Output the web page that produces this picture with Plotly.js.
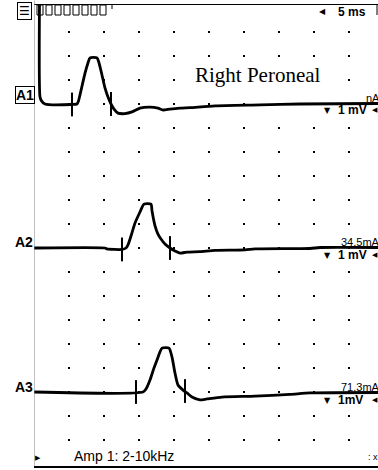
<!DOCTYPE html>
<html>
<head>
<meta charset="utf-8">
<script src="https://cdn.plot.ly/plotly-3.0.1.min.js"></script>
<style>html,body{margin:0;padding:0;background:#fff;}#chart{width:378px;height:470px;}</style>
</head>
<body>
<div id="chart"></div>
<script>
// ---- data (time in ms, amplitude in mV relative to each channel baseline) ----
const channels = ["A1", "A2", "A3"];
const channelOffsets = [15, 9, 3];          // baseline position in divisions
const sensitivity = ["1 mV", "1 mV", "1mV"];
const stimCurrent = ["nA", "34.5mA", "71.3mA"];

const timeA1 = [0.79, 0.86, 1.07, 1.57, 5.43, 6.14, 6.36, 6.57, 6.86, 7.29, 7.71, 8.0, 9.0, 9.29, 9.71, 10.14, 10.57, 11.0, 11.43, 12.0, 13.0, 14.0, 15.14, 16.57, 17.71, 18.43, 19.43, 20.86, 22.29, 25.86, 32.29, 38.0, 49.14];
const voltA1 = [4.4, 0.29, 0.13, 0, -0.02, 0, 0.13, 0.38, 0.75, 1.29, 1.71, 1.92, 1.92, 1.71, 1.21, 0.67, 0.29, 0, -0.21, -0.38, -0.40, -0.33, -0.17, -0.13, -0.17, -0.25, -0.21, -0.17, -0.15, -0.08, -0.04, 0, 0.02];

const timeA2 = [0, 10.14, 10.43, 12.57, 13.14, 13.43, 13.86, 14.43, 15.14, 15.71, 16.71, 16.86, 17.29, 17.71, 18.14, 18.71, 19.43, 20.14, 20.86, 21.86, 23.71, 25.86, 30.14, 31.57, 39.43, 40.86, 49.14];
const voltA2 = [0, 0, -0.04, -0.06, 0, 0.13, 0.5, 1.04, 1.5, 1.83, 1.83, 1.54, 0.92, 0.58, 0.375, 0.17, 0, -0.125, -0.21, -0.17, -0.15, -0.1, -0.08, -0.04, -0.02, 0.02, 0.02];

const timeA3 = [0, 15.57, 16.0, 16.57, 17.14, 17.57, 18.0, 18.29, 19.29, 19.71, 20.14, 20.57, 21.29, 21.86, 22.57, 23.71, 24.71, 26.86, 31.57, 36.57, 39.43, 49.14];
const voltA3 = [0, 0, 0.125, 0.5, 1.0, 1.33, 1.67, 1.83, 1.83, 1.46, 0.79, 0.29, 0.08, -0.04, -0.21, -0.33, -0.29, -0.21, -0.17, -0.1, -0.04, -0.02];

// onset / end latency markers
const cursorTimeA1 = [5.43, 11.0], cursorVoltA1 = [-0.02, 0.0];
const cursorTimeA2 = [12.57, 19.43], cursorVoltA2 = [-0.06, 0.0];
const cursorTimeA3 = [14.57, 21.57], cursorVoltA3 = [0.0, 0.04];

const titleText = "Right Peroneal";
const filterText = "Amp 1: 2-10kHz";
const sweepText = "5 ms";

// ---- geometry helpers (pixel -> axis units / paper units) ----
const X = px => (px - 34) / 7;
const Y = py => (464 - py) / 24;
const PX = px => (px - 34) / 344;

const times = [timeA1, timeA2, timeA3];
const volts = [voltA1, voltA2, voltA3];
const cT = [cursorTimeA1, cursorTimeA2, cursorTimeA3];
const cV = [cursorVoltA1, cursorVoltA2, cursorVoltA3];

const traces = [];
// grid dots
const gx = [], gy = [];
for (let t = 5; t <= 45; t += 5) for (let d = 1; d <= 18; d++) { gx.push(t); gy.push(d); }
traces.push({x: gx, y: gy, mode: 'markers', type: 'scatter', hoverinfo: 'skip',
  marker: {symbol: 'square', size: 2, color: '#000', line: {width: 0}}});

channels.forEach((c, i) => {
  traces.push({x: times[i], y: volts[i].map(v => v + channelOffsets[i]), mode: 'lines', type: 'scatter',
    line: {color: '#000', width: 2.8, shape: 'spline', smoothing: 0.6}, hoverinfo: 'skip'});
  traces.push({x: cT[i], y: cV[i].map(v => v + channelOffsets[i]), mode: 'markers', type: 'scatter',
    marker: {symbol: 'line-ns', size: 17, color: '#000', line: {width: 2, color: '#000'}}, hoverinfo: 'skip'});
});

const ann = [];
const A = (o) => Object.assign({xref: 'x', yref: 'y', showarrow: false, font: {family: 'Arial, Liberation Sans', size: 11, color: '#000'}}, o);
ann.push(A({text: titleText, x: X(194), y: Y(75), xanchor: 'left', yanchor: 'middle', bgcolor: '#fff', borderpad: 0,
  font: {family: 'Liberation Serif, Times New Roman', size: 21, color: '#000'}}));
ann.push(A({text: filterText, x: X(72), y: Y(456), xanchor: 'left', yanchor: 'middle',
  font: {family: 'Arial, Liberation Sans', size: 14, color: '#000'}}));
ann.push(A({text: '<b>' + sweepText + '</b>', x: X(368), y: Y(12), xanchor: 'right', yanchor: 'middle',
  font: {family: 'Arial, Liberation Sans', size: 12, color: '#000'}}));
ann.push(A({text: '◀', x: X(322), y: Y(11), xanchor: 'center', yanchor: 'middle', font: {family: 'DejaVu Sans', size: 8, color: '#000'}}));
ann.push(A({text: '▶', x: X(38), y: Y(458), xanchor: 'center', yanchor: 'middle', font: {family: 'DejaVu Sans', size: 7, color: '#000'}}));
ann.push(A({text: ': x', x: X(366), y: Y(457), xanchor: 'left', yanchor: 'middle', font: {family: 'Arial', size: 9, color: '#000'}}));
ann.push(A({xref: 'paper', text: '☰', x: PX(24.5), y: Y(11), xanchor: 'center', yanchor: 'middle', bordercolor: '#000', borderwidth: 1, borderpad: 1,
  bgcolor: '#fff', font: {family: 'DejaVu Sans', size: 12, color: '#000'}}));

const labelY = [95, 242, 387];
const rightY = [98, 242, 387];
const mvY = [110, 255, 400];
channels.forEach((c, i) => {
  if (i === 0) {
    ann.push(A({xref: 'paper', text: '<b>' + c + '</b>', x: PX(25), y: Y(labelY[i]), xanchor: 'center', yanchor: 'middle',
      bordercolor: '#000', borderwidth: 1, borderpad: 0, bgcolor: '#fff', font: {family: 'Arial', size: 14, color: '#000'}}));
  } else {
    ann.push(A({xref: 'paper', text: '<b>' + c + '</b>', x: PX(35), y: Y(labelY[i]), xanchor: 'right', yanchor: 'middle',
      font: {family: 'Arial', size: 14, color: '#000'}}));
  }
  ann.push(A({text: stimCurrent[i], x: i === 0 ? X(364) : X(339), y: Y(rightY[i]), xanchor: 'left', yanchor: 'middle',
    font: {family: 'Arial', size: 11, color: '#000'}}));
  ann.push(A({text: '▼', x: X(327), y: Y(mvY[i]), xanchor: 'center', yanchor: 'middle', font: {family: 'DejaVu Sans', size: 8, color: '#000'}}));
  ann.push(A({text: '<b>' + sensitivity[i] + '</b>', x: X(336), y: Y(mvY[i]), xanchor: 'left', yanchor: 'middle',
    font: {family: 'Arial', size: 12, color: '#000'}}));
  ann.push(A({text: '◀', x: X(370), y: Y(mvY[i]), xanchor: 'left', yanchor: 'middle', font: {family: 'DejaVu Sans', size: 7, color: '#000'}}));
});

const shapes = [];
for (let k = 0; k < 8; k++) {
  shapes.push({type: 'rect', xref: 'x', yref: 'y', x0: X(37 + 9 * k), x1: X(43 + 9 * k), y0: Y(15), y1: Y(5),
    line: {color: '#000', width: 1}, fillcolor: 'rgba(0,0,0,0)'});
}
shapes.push({type: 'line', xref: 'x', yref: 'y', x0: X(112), x1: X(112), y0: Y(9), y1: Y(5), line: {color: '#000', width: 1}});
// left gray frame line
shapes.push({type: 'line', xref: 'x', yref: 'paper', x0: X(33.5), x1: X(33.5), y0: 0, y1: 1.01, line: {color: '#808080', width: 2}});
shapes.push({type: 'line', xref: 'x', yref: 'y', x0: X(377), x1: X(377), y0: Y(15), y1: Y(5), line: {color: '#000', width: 1}});

const layout = {
  width: 378, height: 470,
  margin: {l: 34, r: 0, t: 5, b: 4, pad: 0},
  paper_bgcolor: '#fff', plot_bgcolor: '#fff',
  showlegend: false,
  xaxis: {range: [0, 344 / 7], showgrid: false, zeroline: false, showticklabels: false, ticks: '',
    showline: true, linecolor: '#000', linewidth: 1.5, mirror: true, fixedrange: true},
  yaxis: {range: [Y(466), Y(5)], showgrid: false, zeroline: false, showticklabels: false, ticks: '',
    showline: false, fixedrange: true},
  annotations: ann,
  shapes: shapes
};

Plotly.newPlot('chart', traces, layout, {displayModeBar: false, staticPlot: true});
</script>
</body>
</html>
